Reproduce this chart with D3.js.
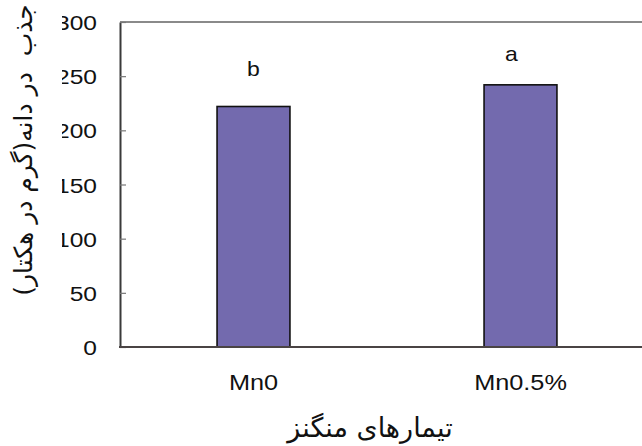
<!DOCTYPE html>
<html>
<head>
<meta charset="utf-8">
<script src="https://cdn.jsdelivr.net/npm/d3@7"></script>
<style>
  html, body { margin: 0; padding: 0; background: #fff; }
  svg { display: block; }
</style>
</head>
<body>
<svg id="chart" width="642" height="446"></svg>
<script>
// Manganese treatments and grain uptake (g/ha)
const categories = ["Mn0", "Mn0.5%"];
const uptake = [222, 242];
const groupLetters = ["b", "a"];
const yTicks = [0, 50, 100, 150, 200, 250, 300];
const yTitle = "جذب  در دانه(گرم در هکتار)";
const xTitle = "تیمارهای منگنز";

const svg = d3.select("#chart");
const W = 642, H = 446;
const plotLeft = 120, plotTop = 22, plotBottom = 347, plotRightEnd = 654;

const x = d3.scalePoint().domain(categories).range([plotLeft, plotRightEnd]).padding(0.5);
const y = d3.scaleLinear().domain([0, 300]).range([plotBottom, plotTop]);
const barW = x.step() * 0.273;

// the numbers on the value axis are cut off on their left side
const defs = svg.append("defs");
defs.append("clipPath").attr("id", "tickClip")
  .append("rect").attr("x", 62 - plotLeft).attr("y", 0).attr("width", 700).attr("height", H);

// top frame line
svg.append("line")
  .attr("x1", plotLeft).attr("x2", W)
  .attr("y1", plotTop).attr("y2", plotTop)
  .attr("stroke", "#8a8a8a").attr("stroke-width", 2);

// bars
svg.append("g").selectAll("rect")
  .data(categories)
  .join("rect")
  .attr("x", (d) => x(d) - barW / 2)
  .attr("y", (d, i) => y(uptake[i]))
  .attr("width", barW)
  .attr("height", (d, i) => plotBottom - y(uptake[i]))
  .attr("fill", "#736aae")
  .attr("stroke", "#111")
  .attr("stroke-width", 1.6);

// y axis
const yAxis = svg.append("g")
  .attr("transform", `translate(${plotLeft},0)`)
  .attr("clip-path", "url(#tickClip)")
  .call(d3.axisLeft(y).tickValues(yTicks).tickSize(-6).tickSizeOuter(0).tickPadding(23));
yAxis.select(".domain").attr("stroke", "#3a3a3a").attr("stroke-width", 2);
yAxis.selectAll(".tick line").attr("stroke", "#777").attr("stroke-width", 1.2);
yAxis.selectAll(".tick text")
  .attr("font-family", "Liberation Sans, Arial, sans-serif")
  .attr("font-size", 21)
  .attr("fill", "#111")
  .attr("dy", "0.36em")
  .each(function () {
    const t = d3.select(this);
    const tx = +t.attr("x");
    t.attr("x", 0).attr("transform", `translate(${tx},0) scale(1.17,1)`);
  });

// x axis baseline
svg.append("line")
  .attr("x1", plotLeft - 1).attr("x2", W)
  .attr("y1", plotBottom).attr("y2", plotBottom)
  .attr("stroke", "#4a4444").attr("stroke-width", 2);

// category labels
svg.append("g").selectAll("text")
  .data(categories)
  .join("text")
  .attr("transform", (d) => `translate(${x(d)},390) scale(1.15,1)`)
  .attr("text-anchor", "middle")
  .attr("font-family", "Liberation Sans, Arial, sans-serif")
  .attr("font-size", 22)
  .attr("fill", "#111")
  .text((d) => d);

// significance letters
svg.append("g").selectAll("text")
  .data(categories)
  .join("text")
  .attr("transform", (d, i) => `translate(${x(d) - (i ? 9 : 0)},${y(uptake[i]) - (i ? 24 : 31)}) scale(1.15,1)`)
  .attr("text-anchor", "middle")
  .attr("font-family", "Liberation Sans, Arial, sans-serif")
  .attr("font-size", 20)
  .attr("fill", "#111")
  .text((d, i) => groupLetters[i]);

// axis titles
svg.append("text")
  .attr("transform", "translate(370,437)")
  .attr("text-anchor", "middle")
  .attr("font-family", "DejaVu Sans, sans-serif")
  .attr("font-size", 27)
  .attr("fill", "#111")
  .attr("direction", "rtl")
  .text(xTitle);

svg.append("text")
  .attr("transform", "translate(32,150) rotate(-90)")
  .attr("text-anchor", "middle")
  .attr("font-family", "DejaVu Sans, sans-serif")
  .attr("font-size", 25)
  .attr("fill", "#111")
  .attr("direction", "rtl")
  .style("white-space", "pre")
  .text(yTitle);
</script>
</body>
</html>
